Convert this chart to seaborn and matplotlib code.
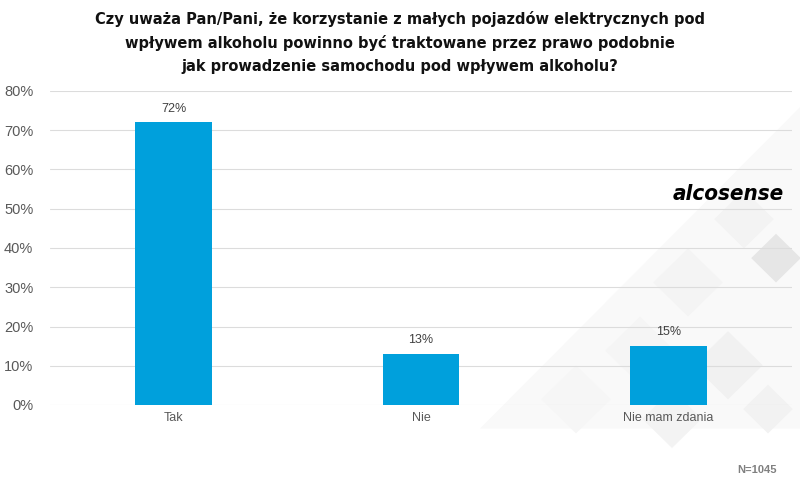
import numpy as np
import pandas as pd
import seaborn as sns
import matplotlib.pyplot as plt
from matplotlib.patches import Polygon

# data
categories = ["Tak", "Nie", "Nie mam zdania"]
values = [72, 13, 15]
yticks = [0, 10, 20, 30, 40, 50, 60, 70, 80]

df = pd.DataFrame({"odp": categories, "proc": values})

sns.set_theme(style="white")
plt.rcParams['font.family'] = ['Liberation Sans', 'DejaVu Sans']

fig = plt.figure(figsize=(8, 4.87), dpi=100)
ax = fig.add_axes([50/800, 1-405/487, 742/800, 314/487])

# faint watermark in the bottom-right corner (decoration only)
fig.add_artist(Polygon([[0.6, 0.12], [1.0, 0.78], [1.0, 0.12]], closed=True,
                       transform=fig.transFigure, color="#f9f9f9", zorder=0, lw=0))
for cx, cy, s, c in [(0.93, 0.55, 0.06, "#f3f3f3"), (0.86, 0.42, 0.07, "#f4f4f4"),
                     (0.97, 0.47, 0.05, "#e6e6e6"), (0.8, 0.28, 0.07, "#f5f5f5"),
                     (0.91, 0.25, 0.07, "#f1f1f1"), (0.72, 0.18, 0.07, "#f6f6f6"),
                     (0.84, 0.14, 0.06, "#f3f3f3"), (0.96, 0.16, 0.05, "#f2f2f2")]:
    w = s * 0.62
    fig.add_artist(Polygon([[cx, cy + s], [cx + w, cy], [cx, cy - s], [cx - w, cy]],
                           closed=True, transform=fig.transFigure, color=c, zorder=0, lw=0))

ax.set_facecolor("none")
sns.barplot(data=df, x="odp", y="proc", color="#00A0DC", saturation=1, width=0.31,
            linewidth=0, ax=ax, zorder=3)

for i, v in enumerate(values):
    ax.text(i, v + 2, f"{v}%", ha="center", va="bottom", fontsize=9, color="#404040")

ax.set_xlim(-0.5, 2.5)
ax.set_ylim(0, 80)
ax.set_yticks(yticks)
ax.set_yticklabels([f"{t}%" for t in yticks])
ax.yaxis.grid(True, color="#dcdcdc", lw=0.8, zorder=0)
ax.set_axisbelow(True)
ax.set_xlabel("")
ax.set_ylabel("")
for sp in ax.spines.values():
    sp.set_visible(False)
ax.tick_params(axis="y", labelsize=10.5, colors="#595959", length=0, pad=12)
ax.tick_params(axis="x", labelsize=9, colors="#595959", length=0, pad=5)

fig.text(0.5, 1-11/487,
         "Czy uważa Pan/Pani, że korzystanie z małych pojazdów elektrycznych pod\n"
         "wpływem alkoholu powinno być traktowane przez prawo podobnie\n"
         "jak prowadzenie samochodu pod wpływem alkoholu?",
         ha="center", va="top", fontsize=11.7, fontweight="bold", color="#111111",
         linespacing=1.62, fontstretch="condensed", family=["DejaVu Sans"])

fig.text(728/800, 1-194/487, "alcosense", ha="center", va="center", fontsize=16,
         fontweight="bold", style="italic", color="black", fontstretch="condensed",
         family=["DejaVu Sans"])

fig.text(757/800, 1-470/487, "N=1045", ha="center", va="center", fontsize=8,
         fontweight="bold", color="#808080")

fig.savefig("out.png", dpi=100)
